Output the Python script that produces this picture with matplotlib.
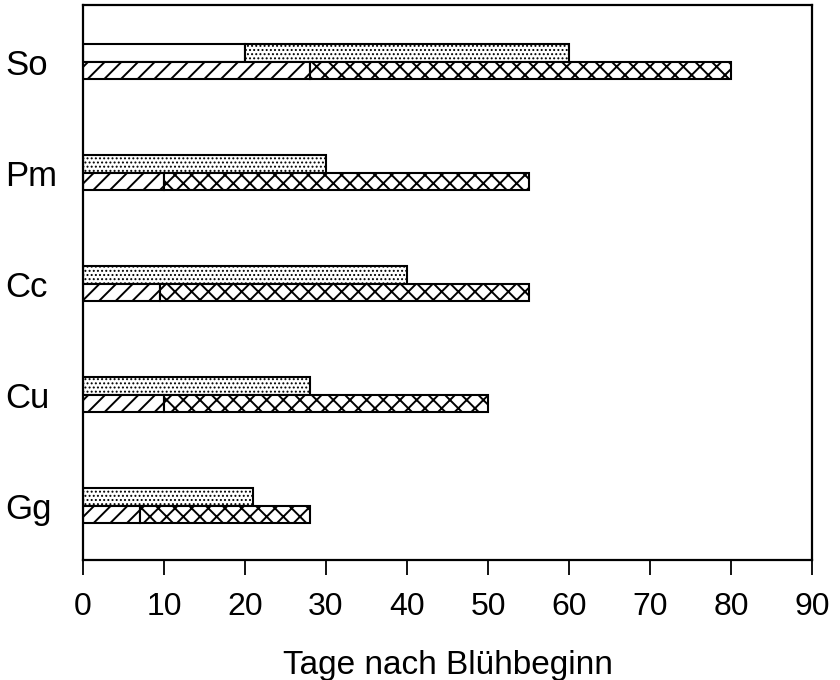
import matplotlib
matplotlib.use("Agg")
import matplotlib.pyplot as plt
from matplotlib import font_manager

categories = ["So", "Pm", "Cc", "Cu", "Gg"]
white_end = [20, 0, 0, 0, 0]
dot_end = [60, 30, 40, 28, 21]
hatch_end = [28, 10, 9.5, 10, 7]
cross_end = [80, 55, 55, 50, 28]
xticks = [0, 10, 20, 30, 40, 50, 60, 70, 80, 90]
xlabel = "Tage nach Blühbeginn"

names = {f.name for f in font_manager.fontManager.ttflist}
narrow = "Liberation Sans Narrow" if "Liberation Sans Narrow" in names else "Liberation Sans"

plt.rcParams["hatch.linewidth"] = 1.4
plt.rcParams["font.family"] = ["Liberation Sans", "DejaVu Sans"]

fig = plt.figure(figsize=(8.4, 6.8), dpi=100)
ax = fig.add_axes([83 / 840, 1 - 560 / 680, (812 - 83) / 840, (560 - 5) / 680])

n = len(categories)
ypos = [n - 1 - i for i in range(n)]
h = 0.16


def set_hlw(container, lw):
    for p in container:
        if hasattr(p, "set_hatch_linewidth"):
            p.set_hatch_linewidth(lw)


for y, w, d, he, c in zip(ypos, white_end, dot_end, hatch_end, cross_end):
    up = y + h / 2
    lo = y - h / 2
    if w > 0:
        ax.barh(up, w, left=0, height=h, color="white", edgecolor="black", linewidth=1.5)
    b = ax.barh(up, d - w, left=w, height=h, color="white", edgecolor="black",
                linewidth=1.5, hatch="....")
    set_hlw(b, 0.9)
    b = ax.barh(lo, he, left=0, height=h, color="white", edgecolor="black",
                linewidth=1.5, hatch="//")
    set_hlw(b, 1.4)
    b = ax.barh(lo, c - he, left=he, height=h, color="white", edgecolor="black",
                linewidth=1.5, hatch="xx")
    set_hlw(b, 1.4)

ax.set_xlim(0, 90)
ax.set_ylim(-0.49, 4.51)
ax.set_xticks(xticks)
ax.set_xticklabels([str(t) for t in xticks], family=[narrow, "DejaVu Sans"], fontsize=23)
ax.set_yticks(ypos)
ax.set_yticklabels(categories, fontsize=25, ha="left")
ax.tick_params(axis="y", length=0, pad=78 * 72 / 100)
ax.tick_params(axis="x", direction="out", length=11, width=1.3, pad=12)
for s in ax.spines.values():
    s.set_linewidth(1.6)
ax.set_xlabel(xlabel, fontsize=24, labelpad=20)

fig.savefig("out.png", dpi=100)
